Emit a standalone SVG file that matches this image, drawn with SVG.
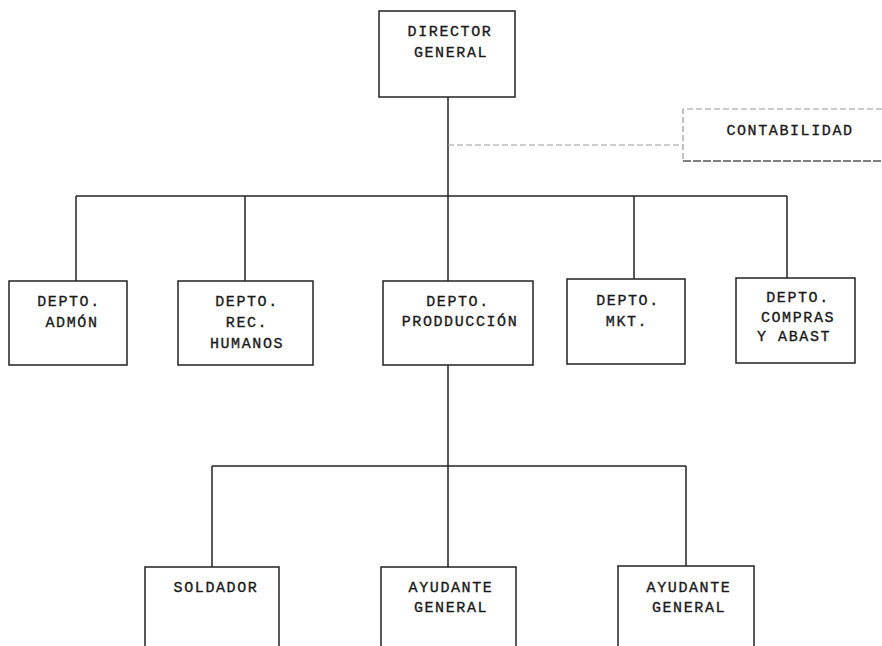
<svg xmlns="http://www.w3.org/2000/svg" width="882" height="646" viewBox="0 0 882 646">
<style>
.box{fill:#fff;stroke:#222;stroke-width:1.5}
.ln{stroke:#222;stroke-width:1.5;fill:none}
.dash{stroke:#999;stroke-width:1.2;fill:none;stroke-dasharray:6 3}
.dark{stroke:#555;stroke-width:1.5;fill:none;stroke-dasharray:8 2}
text{font-family:"Liberation Mono","Courier New",monospace;font-size:15px;letter-spacing:1.6px;fill:#1a1a1a;stroke:#1a1a1a;stroke-width:0.35;text-anchor:middle}
</style>
<rect width="882" height="646" fill="#fff"/>
<g id="connectors">
<line class="ln" x1="448" y1="97" x2="448" y2="281"/>
<line class="ln" x1="76" y1="196" x2="787" y2="196"/>
<line class="ln" x1="76" y1="196" x2="76" y2="281"/>
<line class="ln" x1="245" y1="196" x2="245" y2="281"/>
<line class="ln" x1="634" y1="196" x2="634" y2="279"/>
<line class="ln" x1="787" y1="196" x2="787" y2="278"/>
<line class="ln" x1="448" y1="365" x2="448" y2="567"/>
<line class="ln" x1="212" y1="466" x2="686" y2="466"/>
<line class="ln" x1="212" y1="466" x2="212" y2="567"/>
<line class="ln" x1="686" y1="466" x2="686" y2="566"/>
<line class="dash" x1="448" y1="145" x2="683" y2="145"/>
</g>
<g id="director">
<rect class="box" x="379" y="11" width="136" height="86"/>
<text x="450" y="36">DIRECTOR</text>
<text x="451" y="57">GENERAL</text>
</g>
<g id="contabilidad">
<path class="dash" d="M882 109 H683 V161"/>
<path class="dark" d="M683 161 H882"/>
<text x="790" y="135">CONTABILIDAD</text>
</g>
<g id="admon">
<rect class="box" x="9" y="281" width="118" height="84"/>
<text x="69" y="306">DEPTO.</text>
<text x="72" y="327">ADMÓN</text>
</g>
<g id="rrhh">
<rect class="box" x="178" y="281" width="135" height="84"/>
<text x="247" y="306">DEPTO.</text>
<text x="247" y="327">REC.</text>
<text x="247" y="348">HUMANOS</text>
</g>
<g id="produccion">
<rect class="box" x="383" y="281" width="150" height="84"/>
<text x="458" y="306">DEPTO.</text>
<text x="460" y="326">PRODDUCCIÓN</text>
</g>
<g id="mkt">
<rect class="box" x="567" y="279" width="118" height="85"/>
<text x="628" y="305">DEPTO.</text>
<text x="627" y="326">MKT.</text>
</g>
<g id="compras">
<rect class="box" x="736" y="278" width="119" height="85"/>
<text x="798" y="302">DEPTO.</text>
<text x="798" y="322">COMPRAS</text>
<text x="794" y="341">Y ABAST</text>
</g>
<g id="soldador">
<rect class="box" x="145" y="567" width="134" height="100"/>
<text x="216" y="592">SOLDADOR</text>
</g>
<g id="ayudante1">
<rect class="box" x="381" y="567" width="135" height="100"/>
<text x="451" y="592">AYUDANTE</text>
<text x="451" y="612">GENERAL</text>
</g>
<g id="ayudante2">
<rect class="box" x="618" y="566" width="136" height="100"/>
<text x="689" y="592">AYUDANTE</text>
<text x="689" y="612">GENERAL</text>
</g>
</svg>
